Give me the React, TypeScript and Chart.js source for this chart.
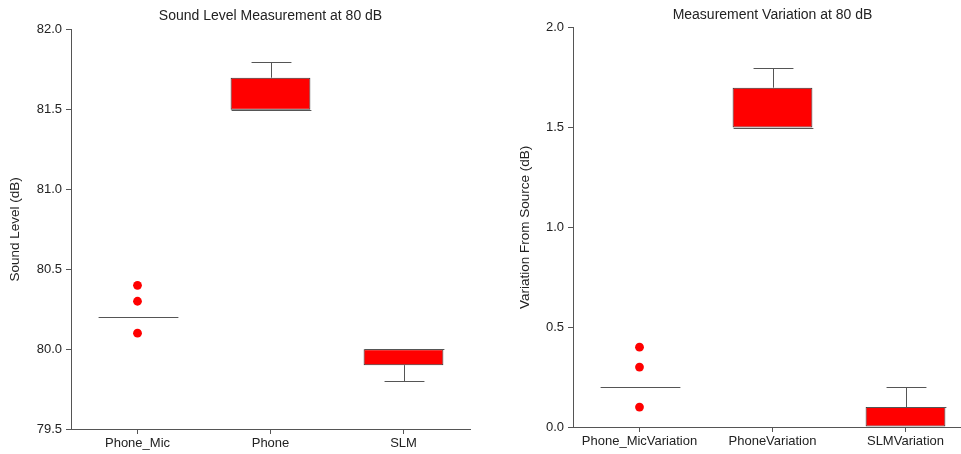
import React, { useEffect, useRef } from 'react';
import { Chart, registerables } from 'chart.js';

Chart.register(...registerables);

// ---------- Data ----------
const levelCategories = ['Phone_Mic', 'Phone', 'SLM'];
const levelMin = [80.2, 81.5, 79.8];
const levelQ1 = [80.2, 81.5, 79.9];
const levelMedian = [80.2, 81.5, 80.0];
const levelQ3 = [80.2, 81.7, 80.0];
const levelMax = [80.2, 81.8, 80.0];
const levelOutlierCats = ['Phone_Mic', 'Phone_Mic', 'Phone_Mic'];
const levelOutlierValues = [80.1, 80.3, 80.4];
const levelTicks = [79.5, 80.0, 80.5, 81.0, 81.5, 82.0];

const varCategories = ['Phone_MicVariation', 'PhoneVariation', 'SLMVariation'];
const varMin = [0.2, 1.5, 0.0];
const varQ1 = [0.2, 1.5, 0.0];
const varMedian = [0.2, 1.5, 0.1];
const varQ3 = [0.2, 1.7, 0.1];
const varMax = [0.2, 1.8, 0.2];
const varOutlierCats = ['Phone_MicVariation', 'Phone_MicVariation', 'Phone_MicVariation'];
const varOutlierValues = [0.1, 0.3, 0.4];
const varTicks = [0.0, 0.5, 1.0, 1.5, 2.0];

const FONT = "'Liberation Sans', Arial, Helvetica, sans-serif";
const TEXT = '#222222';
const AXIS = '#555555';

type BoxSpec = {
  title: string;
  yTitle: string;
  categories: string[];
  min: number[];
  q1: number[];
  median: number[];
  q3: number[];
  max: number[];
  outCats: string[];
  outVals: number[];
  ticks: number[];
  yAxisWidth: number;
  yTitlePad: number;
  xAxisHeight: number;
  titlePadTop: number;
  titlePadBottom: number;
  rightPad: number;
};

const boxPlugin = {
  id: 'boxWhiskers',
  afterDatasetsDraw(chart: any) {
    const spec: BoxSpec = chart.options.plugins.boxWhiskers.spec;
    const meta = chart.getDatasetMeta(0);
    const y = chart.scales.y;
    const ctx = chart.ctx;
    ctx.save();
    ctx.strokeStyle = AXIS;
    ctx.lineWidth = 1;
    meta.data.forEach((el: any, i: number) => {
      const cx = Math.round(el.x) + 0.5;
      const hw = el.width / 2;
      const yq1 = y.getPixelForValue(spec.q1[i]);
      const yq3 = y.getPixelForValue(spec.q3[i]);
      const ymed = Math.round(y.getPixelForValue(spec.median[i])) + 0.5;
      const ymax = Math.round(y.getPixelForValue(spec.max[i])) + 0.5;
      const ymin = Math.round(y.getPixelForValue(spec.min[i])) + 0.5;
      ctx.beginPath();
      if (spec.max[i] > spec.q3[i]) {
        ctx.moveTo(cx, yq3);
        ctx.lineTo(cx, ymax);
        ctx.moveTo(cx - hw / 2, ymax);
        ctx.lineTo(cx + hw / 2, ymax);
      }
      if (spec.min[i] < spec.q1[i]) {
        ctx.moveTo(cx, yq1);
        ctx.lineTo(cx, ymin);
        ctx.moveTo(cx - hw / 2, ymin);
        ctx.lineTo(cx + hw / 2, ymin);
      }
      ctx.moveTo(cx - hw, ymed);
      ctx.lineTo(cx + hw, ymed);
      ctx.stroke();
    });
    ctx.restore();
  },
};

function BoxChart({ spec, width, height }: { spec: BoxSpec; width: number; height: number }) {
  const ref = useRef<HTMLCanvasElement | null>(null);
  useEffect(() => {
    if (!ref.current) return;
    const chart = new Chart(ref.current, {
      type: 'bar',
      data: {
        labels: spec.categories,
        datasets: [
          {
            type: 'bar',
            data: spec.q1.map((v, i) => [v, spec.q3[i]]) as any,
            backgroundColor: '#ff0000',
            borderColor: '#333333',
            borderWidth: 1,
            borderSkipped: false,
            barPercentage: 0.6,
            categoryPercentage: 1,
            order: 2,
          },
          {
            type: 'line',
            data: spec.outVals.map((v, i) => ({ x: spec.outCats[i], y: v })) as any,
            showLine: false,
            pointRadius: 4.4,
            pointBackgroundColor: '#ff0000',
            pointBorderColor: '#ee0000',
            pointBorderWidth: 0,
            order: 1,
          } as any,
        ],
      },
      options: {
        animation: false,
        responsive: false,
        devicePixelRatio: 1,
        layout: { padding: { left: 0, right: spec.rightPad, top: 0, bottom: 0 } },
        plugins: {
          legend: { display: false },
          tooltip: { enabled: false },
          title: {
            display: true,
            text: spec.title,
            fullSize: false,
            color: TEXT,
            font: { family: FONT, size: 14, weight: 'normal' },
            padding: { top: spec.titlePadTop, bottom: spec.titlePadBottom },
          },
          boxWhiskers: { spec },
        } as any,
        scales: {
          x: {
            type: 'category',
            offset: true,
            grid: {
              display: true,
              drawOnChartArea: false,
              drawTicks: true,
              tickLength: 5,
              offset: false,
              color: AXIS,
            },
            border: { display: true, color: AXIS, width: 1 },
            ticks: {
              color: TEXT,
              font: { family: FONT, size: 13 },
              padding: 2,
              maxRotation: 0,
              autoSkip: false,
            },
            afterFit: (s: any) => {
              s.height = spec.xAxisHeight;
            },
          },
          y: {
            type: 'linear',
            min: spec.ticks[0],
            max: spec.ticks[spec.ticks.length - 1],
            afterBuildTicks: (s: any) => {
              s.ticks = spec.ticks.map((v) => ({ value: v }));
            },
            grid: {
              display: true,
              drawOnChartArea: false,
              drawTicks: true,
              tickLength: 5,
              color: AXIS,
            },
            border: { display: true, color: AXIS, width: 1 },
            ticks: {
              color: TEXT,
              font: { family: FONT, size: 13 },
              padding: 4,
              callback: (v: any) => Number(v).toFixed(1),
            },
            title: {
              display: true,
              text: spec.yTitle,
              color: TEXT,
              font: { family: FONT, size: 13.5 },
              padding: { top: spec.yTitlePad, bottom: 0 },
            },
            afterFit: (s: any) => {
              s.width = spec.yAxisWidth;
            },
          },
        },
      },
      plugins: [boxPlugin],
    });
    return () => chart.destroy();
  }, [spec]);
  return <canvas ref={ref} width={width} height={height} style={{ display: 'block', width, height }} />;
}

const levelSpec: BoxSpec = {
  title: 'Sound Level Measurement at 80 dB',
  yTitle: 'Sound Level (dB)',
  categories: levelCategories,
  min: levelMin,
  q1: levelQ1,
  median: levelMedian,
  q3: levelQ3,
  max: levelMax,
  outCats: levelOutlierCats,
  outVals: levelOutlierValues,
  ticks: levelTicks,
  yAxisWidth: 71,
  yTitlePad: 7,
  xAxisHeight: 25,
  titlePadTop: 8,
  titlePadBottom: 5,
  rightPad: 10,
};

const varSpec: BoxSpec = {
  title: 'Measurement Variation at 80 dB',
  yTitle: 'Variation From Source (dB)',
  categories: varCategories,
  min: varMin,
  q1: varQ1,
  median: varMedian,
  q3: varQ3,
  max: varMax,
  outCats: varOutlierCats,
  outVals: varOutlierValues,
  ticks: varTicks,
  yAxisWidth: 93,
  yTitlePad: 37,
  xAxisHeight: 27,
  titlePadTop: 7,
  titlePadBottom: 4,
  rightPad: 8,
};

export default function App() {
  return (
    <div
      style={{
        position: 'absolute',
        left: 0,
        top: 0,
        width: 961,
        height: 454,
        overflow: 'hidden',
        background: '#ffffff',
      }}
    >
      <div style={{ position: 'absolute', left: 0, top: 0 }}>
        <BoxChart spec={levelSpec} width={480} height={454} />
      </div>
      <div style={{ position: 'absolute', left: 480, top: 0 }}>
        <BoxChart spec={varSpec} width={500} height={454} />
      </div>
    </div>
  );
}
